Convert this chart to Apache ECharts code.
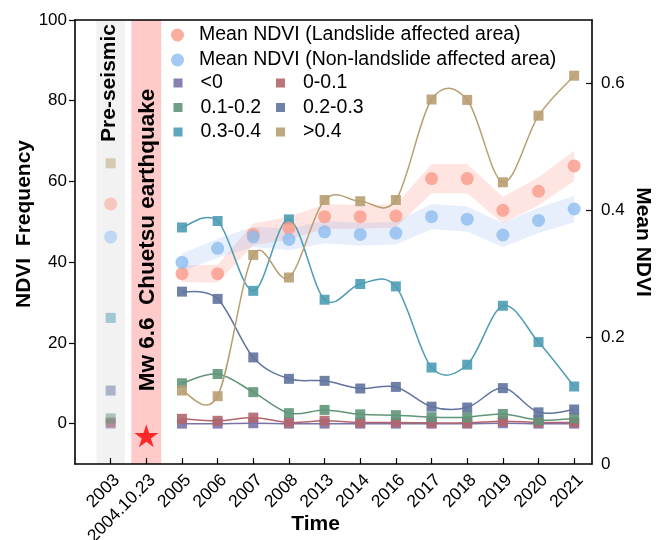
<!DOCTYPE html>
<html>
<head>
<meta charset="utf-8">
<script src="https://cdn.jsdelivr.net/npm/echarts@6/dist/echarts.min.js"></script>
<style>
  html, body { margin: 0; padding: 0; background: #fff; }
  #chart { width: 661px; height: 540px; }
</style>
</head>
<body>
<div id="chart"></div>
<script>
// Observation dates (2004.10.23 = Chuetsu earthquake, no imagery)
const categories = ['2003', '2004.10.23', '2005', '2006', '2007', '2008', '2013',
                    '2014', '2016', '2017', '2018', '2019', '2020', '2021'];

// NDVI class frequency (%)
const freqLt0   = [0.0, null, 0.0, 0.0, 0.1, 0.0, 0.0, 0.0, 0.0, 0.0, 0.0, 0.1, 0.0, 0.0];
const freq0_01  = [0.3, null, 1.2, 0.7, 1.5, 0.3, 0.7, 0.3, 0.3, 0.2, 0.2, 0.6, 0.3, 0.3];
const freq01_02 = [1.3, null, 10.0, 12.3, 7.8, 2.6, 3.4, 2.3, 2.1, 1.6, 1.6, 2.4, 0.9, 1.3];
const freq02_03 = [8.2, null, 32.7, 30.9, 16.4, 11.1, 10.6, 8.7, 9.1, 4.2, 4.0, 8.8, 2.8, 3.5];
const freq03_04 = [26.2, null, 48.6, 50.2, 32.9, 50.6, 30.7, 34.6, 34.0, 13.9, 14.6, 29.2, 20.2, 9.2];
const freqGt04  = [64.5, null, 8.2, 6.8, 41.8, 36.2, 55.4, 55.1, 55.4, 80.3, 80.2, 59.8, 76.3, 86.2];

// Mean NDVI and spread of the shaded envelopes
const meanLandslide    = [0.410, null, 0.300, 0.300, 0.362, 0.372, 0.390, 0.390, 0.391, 0.450, 0.450, 0.400, 0.430, 0.470];
const meanNonLandslide = [0.358, null, 0.318, 0.340, 0.358, 0.354, 0.366, 0.362, 0.364, 0.390, 0.386, 0.361, 0.384, 0.402];
const spreadLandslide    = [null, null, 0.013, 0.014, 0.017, 0.018, 0.019, 0.019, 0.018, 0.023, 0.023, 0.021, 0.022, 0.024];
const spreadNonLandslide = [null, null, 0.014, 0.015, 0.016, 0.017, 0.018, 0.018, 0.018, 0.020, 0.020, 0.019, 0.020, 0.021];

// Axis ticks
const freqTicks = [0, 20, 40, 60, 80, 100];
const ndviTicks = [0, 0.2, 0.4, 0.6];

// Earthquake marker (frequency axis units)
const quakeIndex = 1;
const quakeMarkY = -3;

const FONT = "'Liberation Sans', Arial, Helvetica, sans-serif";
const BLACK = '#000';
const PRE_IDX = 0;      // pre-seismic column is drawn faded
const FIRST_POST = 2;   // curves start with the first post-seismic date

const chart = echarts.init(document.getElementById('chart'), null, { renderer: 'canvas' });

function pointData(vals) {
  const out = [];
  vals.forEach((v, i) => {
    if (v == null) return;
    if (i === PRE_IDX) out.push({ value: [i, v], itemStyle: { opacity: 0.5 } });
    else out.push([i, v]);
  });
  return out;
}

// Cardinal (Catmull-Rom) spline through pixel points, as SVG path data
function splinePath(pts) {
  let d = 'M' + pts[0][0] + ',' + pts[0][1];
  for (let i = 0; i < pts.length - 1; i++) {
    const p0 = pts[i - 1] || pts[i], p1 = pts[i], p2 = pts[i + 1], p3 = pts[i + 2] || pts[i + 1];
    const c1 = [p1[0] + (p2[0] - p0[0]) / 6, p1[1] + (p2[1] - p0[1]) / 6];
    const c2 = [p2[0] - (p3[0] - p1[0]) / 6, p2[1] - (p3[1] - p1[1]) / 6];
    d += ' C' + c1[0] + ',' + c1[1] + ' ' + c2[0] + ',' + c2[1] + ' ' + p2[0] + ',' + p2[1];
  }
  return d;
}

function curveSeries(vals, color, z) {
  const data = [];
  vals.forEach((v, i) => { if (i >= FIRST_POST && v != null) data.push([i, v]); });
  return {
    type: 'custom', coordinateSystem: 'cartesian2d', xAxisIndex: 0, yAxisIndex: 0,
    data, z, silent: true, clip: false,
    renderItem(params, api) {
      if (params.dataIndex !== 0) return { type: 'group', children: [] };
      const pts = data.map(p => api.coord(p));
      return {
        type: 'path',
        shape: { pathData: splinePath(pts) },
        style: { stroke: color, fill: 'none', lineWidth: 1.5 }
      };
    }
  };
}

function bandSeries(mean, spread, color) {
  const data = [];
  mean.forEach((m, i) => { if (m != null && spread[i] != null) data.push([i, m, spread[i]]); });
  return {
    type: 'custom', coordinateSystem: 'cartesian2d', xAxisIndex: 0, yAxisIndex: 1,
    data, z: 2, silent: true,
    renderItem(params, api) {
      if (params.dataIndex !== 0) return { type: 'group', children: [] };
      const upper = data.map(d => api.coord([d[0], d[1] + d[2]]));
      const lower = data.map(d => api.coord([d[0], d[1] - d[2]])).reverse();
      return { type: 'polygon', shape: { points: upper.concat(lower) }, style: { fill: color } };
    }
  };
}

const classes = [
  ['<0', freqLt0, '#7b72a8'],
  ['0-0.1', freq0_01, '#b2666b'],
  ['0.1-0.2', freq01_02, '#5f9578'],
  ['0.2-0.3', freq02_03, '#61739f'],
  ['0.3-0.4', freq03_04, '#4d9cb4'],
  ['>0.4', freqGt04, '#b89f72']
];

const curveList = classes.map(([, vals, color], k) => curveSeries(vals, color, 3 + k * 0.01));
const markerList = classes.map(([name, vals, color], k) => ({
  type: 'scatter', name, xAxisIndex: 0, yAxisIndex: 0,
  data: pointData(vals), symbol: 'rect', symbolSize: 10,
  itemStyle: { color, opacity: 0.9 }, z: 4 + k * 0.01, silent: true
}));

const legendText = extra => ({ fontSize: 19.5, lineHeight: 20, color: BLACK, fontFamily: FONT, padding: [0, 0, 0, extra] });

const option = {
  backgroundColor: '#fff',
  animation: false,
  textStyle: { fontFamily: FONT },
  grid: { left: 75, right: 69, top: 20, bottom: 76, containLabel: false, outerBoundsMode: 'none' },
  legend: [
    {
      data: [
        { name: 'Mean NDVI (Landslide affected area)', icon: 'circle' },
        { name: 'Mean NDVI (Non-landslide affected area)', icon: 'circle' }
      ],
      orient: 'vertical', left: 166, top: 20,
      itemWidth: 13, itemHeight: 13, itemGap: 5,
      textStyle: legendText(10), selectedMode: false
    },
    {
      data: ['<0', '0.1-0.2', '0.3-0.4'].map(n => ({ name: n, icon: 'rect' })),
      orient: 'vertical', left: 168.5, top: 68,
      itemWidth: 9, itemHeight: 9, itemGap: 4.5,
      textStyle: legendText(13), selectedMode: false
    },
    {
      data: ['0-0.1', '0.2-0.3', '>0.4'].map(n => ({ name: n, icon: 'rect' })),
      orient: 'vertical', left: 271, top: 68,
      itemWidth: 9, itemHeight: 9, itemGap: 4.5,
      textStyle: legendText(13), selectedMode: false
    }
  ],
  xAxis: [
    {
      type: 'value', min: -1, max: 13.5, position: 'bottom', z: 10,
      axisLine: { show: true, onZero: false, lineStyle: { color: BLACK, width: 1.6 } },
      axisTick: { show: true, inside: true, length: 6, customValues: categories.map((_, i) => i),
                  lineStyle: { color: BLACK, width: 1.2 } },
      axisLabel: {
        customValues: categories.map((_, i) => i),
        formatter: v => categories[Math.round(v)] || '',
        rotate: 45, fontSize: 17.5, color: BLACK, margin: 7, fontFamily: FONT, verticalAlign: 'top'
      },
      splitLine: { show: false },
      name: 'Time', nameLocation: 'middle', nameGap: 50, nameMoveOverlap: false,
      nameTextStyle: { fontSize: 21, fontWeight: 'bold', color: BLACK, fontFamily: FONT, padding: [0, 36, 0, 0] }
    },
    {
      type: 'value', min: -1, max: 13.5, position: 'top', z: 10,
      axisLine: { show: true, onZero: false, lineStyle: { color: BLACK, width: 1.6 } },
      axisTick: { show: false }, axisLabel: { show: false }, splitLine: { show: false }
    }
  ],
  yAxis: [
    {
      type: 'value', min: -10, max: 100, position: 'left', z: 10,
      axisLine: { show: true, onZero: false, lineStyle: { color: BLACK, width: 1.6 } },
      axisTick: { show: true, inside: false, length: 6, customValues: freqTicks, lineStyle: { color: BLACK, width: 1.2 } },
      axisLabel: { customValues: freqTicks, fontSize: 17, color: BLACK, margin: 8, fontFamily: FONT },
      splitLine: { show: false },
      name: 'NDVI  Frequency', nameLocation: 'middle', nameGap: 40, nameMoveOverlap: false,
      nameTextStyle: { fontSize: 21, fontWeight: 'bold', color: BLACK, fontFamily: FONT, padding: [0, 0, 0, 36] }
    },
    {
      type: 'value', min: 0, max: 0.7, position: 'right', z: 10,
      axisLine: { show: true, onZero: false, lineStyle: { color: BLACK, width: 1.6 } },
      axisTick: { show: true, inside: true, length: 6, customValues: [0.2, 0.4, 0.6], lineStyle: { color: BLACK, width: 1.2 } },
      axisLabel: { customValues: ndviTicks, fontSize: 17, color: BLACK, margin: 9, fontFamily: FONT,
                   formatter: v => (v === 0 ? '0' : String(Math.round(v * 10) / 10)) },
      splitLine: { show: false },
      name: 'Mean NDVI', nameLocation: 'middle', nameGap: 40, nameRotate: -90, nameMoveOverlap: false,
      nameTextStyle: { fontSize: 21, fontWeight: 'bold', color: BLACK, fontFamily: FONT }
    }
  ],
  series: [
    // period shading
    {
      type: 'line', name: 'periods', data: [], yAxisIndex: 0, z: 1, silent: true,
      markArea: {
        silent: true,
        data: [
          [{ xAxis: -0.4, itemStyle: { color: '#f2f2f2' } }, { xAxis: 0.4 }],
          [{ xAxis: 0.58, itemStyle: { color: '#ffcaca' } }, { xAxis: 1.42 }]
        ]
      }
    },
    bandSeries(meanLandslide, spreadLandslide, 'rgba(250,150,135,0.25)'),
    bandSeries(meanNonLandslide, spreadNonLandslide, 'rgba(120,160,235,0.17)'),
    ...curveList,
    ...markerList,
    {
      type: 'scatter', name: 'Mean NDVI (Landslide affected area)', yAxisIndex: 1,
      data: pointData(meanLandslide), symbol: 'circle', symbolSize: 13,
      itemStyle: { color: '#fa9a88' }, z: 6, silent: true
    },
    {
      type: 'scatter', name: 'Mean NDVI (Non-landslide affected area)', yAxisIndex: 1,
      data: pointData(meanNonLandslide), symbol: 'circle', symbolSize: 13,
      itemStyle: { color: '#8dbbef' }, z: 6, silent: true
    },
    {
      type: 'scatter', name: 'quake', yAxisIndex: 0,
      data: [[quakeIndex, quakeMarkY]],
      symbol: 'path://M50,0 L61.2,34.5 L97.6,34.5 L68.2,55.9 L79.4,90.5 L50,69.1 L20.6,90.5 L31.8,55.9 L2.4,34.5 L38.8,34.5 Z',
      symbolSize: [24, 23], itemStyle: { color: '#ff0000' }, z: 8, silent: true
    }
  ]
};

chart.setOption(option);

// Rotated period captions placed in data space
const toPx = p => chart.convertToPixel({ xAxisIndex: 0, yAxisIndex: 0 }, p);
const preTop = toPx([0, 100]);
const quakeMid = toPx([1, 45]);
chart.setOption({
  graphic: [
    {
      type: 'text', x: preTop[0] - 1, y: preTop[1] + 4, rotation: Math.PI / 2, z: 20, silent: true,
      style: { text: 'Pre-seismic', fill: BLACK, font: 'bold 21px ' + FONT, align: 'right', verticalAlign: 'middle' }
    },
    {
      type: 'text', x: quakeMid[0] + 1, y: quakeMid[1] - 2, rotation: Math.PI / 2, z: 20, silent: true,
      style: { text: 'Mw 6.6  Chuetsu earthquake', fill: BLACK, font: 'bold 22.5px ' + FONT, align: 'center', verticalAlign: 'middle' }
    }
  ]
});
</script>
</body>
</html>
